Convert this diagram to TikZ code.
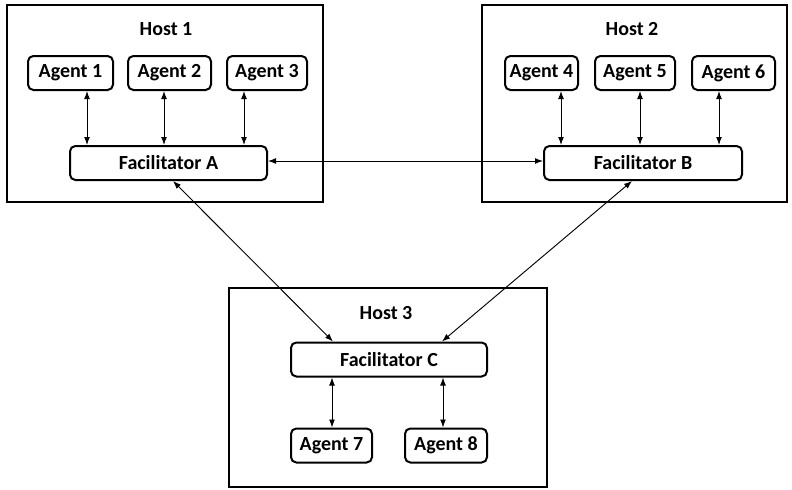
\documentclass[tikz,border=0pt]{standalone}
\usepackage{fontspec}
\setmainfont{Carlito}
\usetikzlibrary{arrows.meta}

\tikzset{
    hostbox/.style={line width=1.5pt},
    agentbox/.style={draw, line width=1.5pt, rounded corners=4pt, minimum height=34*0.75pt, inner sep=0pt,
        font=\fontsize{15}{18}\selectfont\bfseries},
    facbox/.style={agentbox, minimum width=197*0.75pt},
    hostlabel/.style={font=\fontsize{15}{18}\selectfont\bfseries},
    link/.style={line width=0.7pt, {Latex[length=6pt,width=4.4pt]}-{Latex[length=6pt,width=4.4pt]}}
}

\begin{document}
\begin{tikzpicture}[x=0.75pt,y=-0.75pt]
    \useasboundingbox (0,0) rectangle (792,489);

    % Host frames
    \draw[hostbox] (7,5) rectangle (323,202);
    \draw[hostbox] (482,5) rectangle (787,202);
    \draw[hostbox] (229,288) rectangle (547,487);

    \node[hostlabel] (h1) at (166,29) {Host 1};
    \node[hostlabel] (h2) at (632,29) {Host 2};
    \node[hostlabel] (h3) at (386,313) {Host 3};

    % Host 1
    \node[agentbox, minimum width=85*0.75pt] (a1) at (70.5,73) {Agent 1};
    \node[agentbox, minimum width=83*0.75pt] (a2) at (169.5,73) {Agent 2};
    \node[agentbox, minimum width=80*0.75pt] (a3) at (267,73) {Agent 3};
    \node[facbox] (fa) at (168.5,163) {Facilitator A};

    % Host 2
    \node[agentbox, minimum width=73*0.75pt] (a4) at (541.5,73) {Agent 4};
    \node[agentbox, minimum width=80*0.75pt] (a5) at (635,73) {Agent 5};
    \node[agentbox, minimum width=83*0.75pt] (a6) at (733.5,73) {Agent 6};
    \node[facbox, minimum width=198*0.75pt] (fb) at (643,163) {Facilitator B};

    % Host 3
    \node[facbox, minimum width=196*0.75pt] (fc) at (389,359.5) {Facilitator C};
    \node[agentbox, minimum width=81*0.75pt] (a7) at (331.5,445.5) {Agent 7};
    \node[agentbox, minimum width=82*0.75pt] (a8) at (446,445.5) {Agent 8};

    % Agent links
    \draw[link] ([xshift=16.5*0.75pt]a1.south) -- ([xshift=16.5*0.75pt]a1.south |- fa.north);
    \draw[link] ([xshift=-5.5*0.75pt]a2.south) -- ([xshift=-5.5*0.75pt]a2.south |- fa.north);
    \draw[link] ([xshift=-23*0.75pt]a3.south) -- ([xshift=-23*0.75pt]a3.south |- fa.north);
    \draw[link] ([xshift=19.5*0.75pt]a4.south) -- ([xshift=19.5*0.75pt]a4.south |- fb.north);
    \draw[link] ([xshift=5*0.75pt]a5.south) -- ([xshift=5*0.75pt]a5.south |- fb.north);
    \draw[link] ([xshift=-14.5*0.75pt]a6.south) -- ([xshift=-14.5*0.75pt]a6.south |- fb.north);
    \draw[link] ([xshift=0.5*0.75pt]a7.north) -- ([xshift=0.5*0.75pt]a7.north |- fc.south);
    \draw[link] ([xshift=-3*0.75pt]a8.north) -- ([xshift=-3*0.75pt]a8.north |- fc.south);

    % Facilitator links
    \draw[link] ([yshift=2*0.75pt]fa.east) -- ([yshift=2*0.75pt]fb.west);
    \draw[link] ([xshift=4.5*0.75pt]fa.south) -- ([xshift=-56*0.75pt]fc.north);
    \draw[link] ([xshift=-11*0.75pt]fb.south) -- ([xshift=53*0.75pt]fc.north);

\end{tikzpicture}
\end{document}
